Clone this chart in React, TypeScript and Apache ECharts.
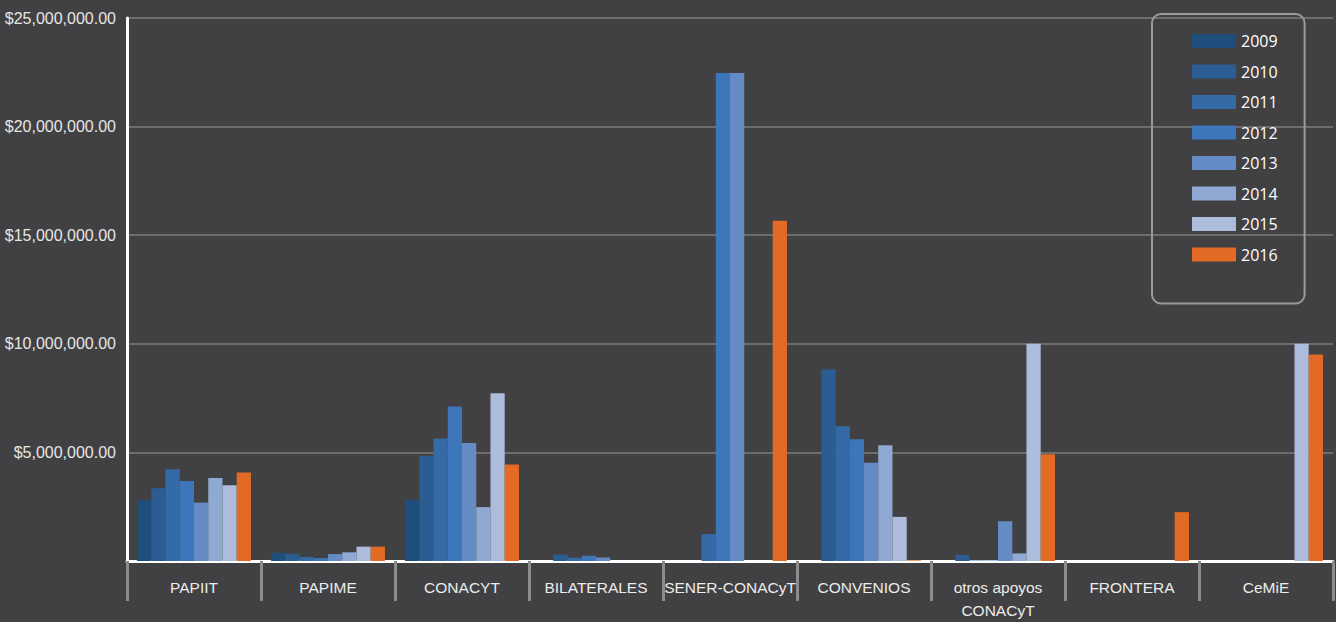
import React, { useEffect, useRef } from "react";
import * as echarts from "echarts";

const categories = [
  "PAPIIT",
  "PAPIME",
  "CONACYT",
  "BILATERALES",
  "SENER-CONACyT",
  "CONVENIOS",
  "otros apoyos\nCONACyT",
  "FRONTERA",
  "CeMiE",
];

const years = ["2009", "2010", "2011", "2012", "2013", "2014", "2015", "2016"];

const yearColors = ["#1f4e7d", "#2b5c92", "#346aa5", "#3e77b9", "#648bc3", "#8fa9d3", "#adbcdb", "#e26a25"];

// values per year, in category order
const v2009 = [2810000, 380000, 2810000, 0, 0, 0, 0, 0, 0];
const v2010 = [3350000, 320000, 4830000, 300000, 0, 8820000, 280000, 0, 0];
const v2011 = [4220000, 180000, 5640000, 150000, 1240000, 6200000, 20000, 0, 0];
const v2012 = [3680000, 130000, 7110000, 240000, 22470000, 5610000, 20000, 0, 0];
const v2013 = [2690000, 320000, 5430000, 160000, 22470000, 4520000, 1830000, 0, 0];
const v2014 = [3820000, 400000, 2480000, 0, 0, 5330000, 350000, 0, 0];
const v2015 = [3490000, 660000, 7720000, 0, 0, 2030000, 10000000, 0, 10000000];
const v2016 = [4080000, 660000, 4440000, 0, 15670000, 30000, 4920000, 2250000, 9510000];

const seriesValues = [v2009, v2010, v2011, v2012, v2013, v2014, v2015, v2016];

const yTicks = { min: 0, max: 25000000, interval: 5000000 };

function fmtMoney(v: number): string {
  if (v === 0) return "";
  return "$" + v.toLocaleString("en-US") + ".00";
}

export default function App() {
  const ref = useRef<HTMLDivElement>(null);
  useEffect(() => {
    if (!ref.current) return;
    const chart = echarts.init(ref.current, null, { renderer: "svg" });
    chart.setOption({
      animation: false,
      backgroundColor: "#414143",
      grid: { left: 127, right: 3, top: 18, bottom: 59, containLabel: false },
      legend: {
        orient: "vertical",
        left: 1152,
        top: 14,
        data: years,
        itemWidth: 44,
        itemHeight: 14,
        itemGap: 14.5,
        padding: [19, 27, 41, 40],
        borderColor: "#9b9b9b",
        borderWidth: 2,
        borderRadius: 9,
        icon: "rect",
        textStyle: {
          color: "#ffffff",
          fontSize: 16,
          fontFamily: "'Open Sans', 'Noto Sans', sans-serif",
          lineHeight: 14,
        },
      },
      xAxis: {
        type: "category",
        data: categories,
        axisLine: { show: true, lineStyle: { color: "#ffffff", width: 3 } },
        axisTick: { show: true, length: 40, lineStyle: { color: "#8c8c8c", width: 3 } },
        axisLabel: {
          color: "#ececec",
          fontSize: 15.5,
          fontFamily: "'Liberation Sans', Arial, sans-serif",
          margin: 15,
          lineHeight: 23,
          interval: 0,
        },
      },
      yAxis: {
        type: "value",
        min: yTicks.min,
        max: yTicks.max,
        interval: yTicks.interval,
        axisLine: { show: true, lineStyle: { color: "#ffffff", width: 3 } },
        axisTick: { show: false },
        splitLine: { show: true, lineStyle: { color: "#6d6d6d", width: 2 } },
        axisLabel: {
          color: "#e6e6e6",
          fontSize: 16,
          fontFamily: "'Liberation Sans', Arial, sans-serif",
          margin: 11,
          formatter: (v: number) => fmtMoney(v),
        },
      },
      series: years.map((y, i) => ({
        name: y,
        type: "bar",
        data: seriesValues[i],
        barGap: "0%",
        barCategoryGap: "15%",
        itemStyle: { color: yearColors[i] },
      })),
    });
    return () => chart.dispose();
  }, []);
  return <div ref={ref} style={{ width: 1336, height: 622, position: "absolute", left: 0, top: 0 }} />;
}
